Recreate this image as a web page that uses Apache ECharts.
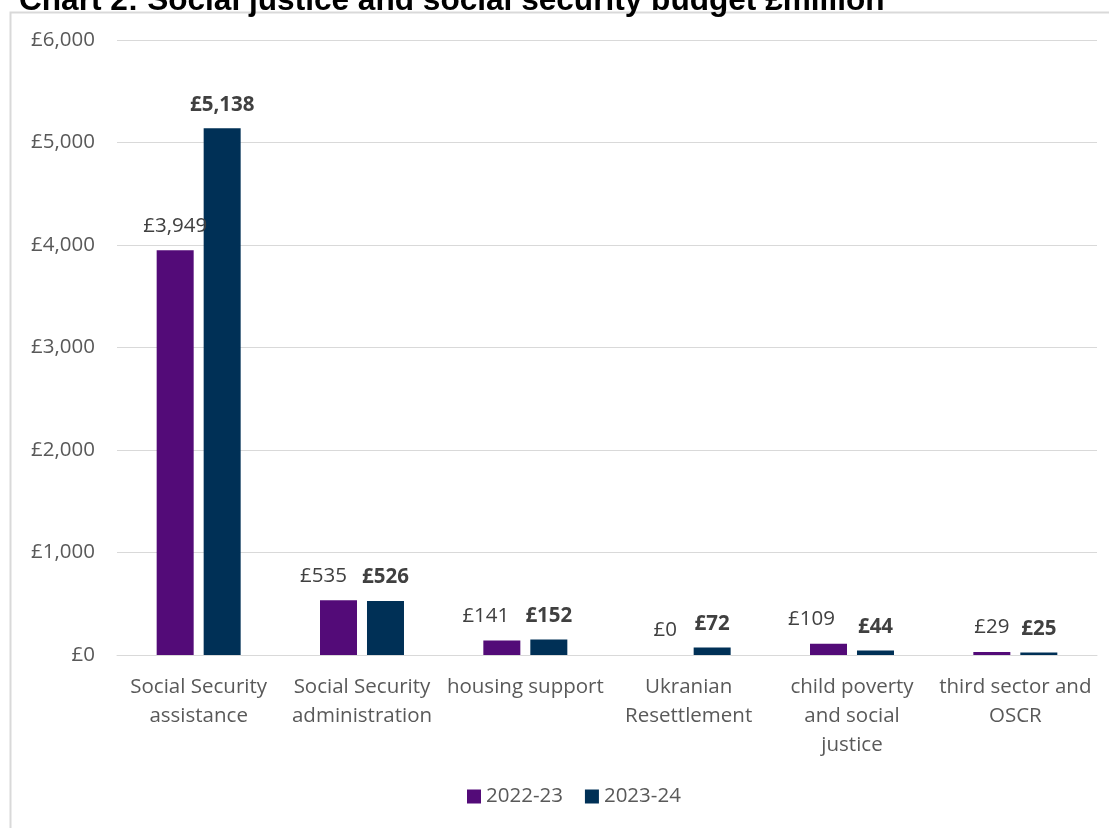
<!DOCTYPE html>
<html><head><meta charset="utf-8">
<script src="https://cdn.jsdelivr.net/npm/echarts@6/dist/echarts.min.js"></script>
<style>html,body{margin:0;padding:0;background:#fff}#c{width:1109px;height:828px}</style>
</head><body><div id="c"></div>
<script>
const titleText = 'Chart 2: Social justice and social security budget £million';
const categories = ['Social Security\nassistance','Social Security\nadministration','housing support','Ukranian\nResettlement','child poverty\nand social\njustice','third sector and\nOSCR'];
const seriesNames = ['2022-23','2023-24'];
const values2022 = [3949, 535, 141, 0, 109, 29];
const values2023 = [5138, 526, 152, 72, 44, 25];
const yMin = 0, yMax = 6000, yInterval = 1000;

const fmt = v => '£' + Number(v).toLocaleString('en-GB');
const FONT = '"Open Sans", sans-serif';
// manual nudges of a few 2022-23 labels, as in the reference
const labelShift = {1:-15, 2:-16, 4:-17};
const data2022 = values2022.map((v,i) => labelShift[i] ? {value:v,label:{offset:[labelShift[i],0]}} : v);
const chart = echarts.init(document.getElementById('c'));
chart.setOption({
  animation:false,
  backgroundColor:'#fff',
  title:{text:titleText,left:14,top:-20,textStyle:{fontFamily:'"Liberation Sans", Arial, sans-serif',fontWeight:'bold',fontSize:31.6,color:'#000'}},
  graphic:[{type:'rect',shape:{x:10.5,y:12.5,width:1200,height:900},style:{fill:'none',stroke:'#d9d9d9',lineWidth:2},z:-1}],
  grid:{left:117,right:12,top:40,bottom:173},
  legend:{bottom:16,left:462,itemWidth:14,itemHeight:14,itemGap:22,icon:'rect',
    textStyle:{fontFamily:FONT,fontSize:20.5,color:'#595959'},data:seriesNames},
  xAxis:{type:'category',data:categories,
    axisLine:{lineStyle:{color:'#d9d9d9',width:1}},axisTick:{show:false},
    axisLabel:{interval:0,fontFamily:FONT,fontSize:20.5,color:'#595959',lineHeight:29,margin:18}},
  yAxis:{type:'value',min:yMin,max:yMax,interval:yInterval,
    axisLine:{show:false},axisTick:{show:false},
    splitLine:{lineStyle:{color:'#d9d9d9',width:1}},
    axisLabel:{formatter:fmt,fontFamily:FONT,fontSize:20.5,color:'#595959',margin:22}},
  series:[
    {name:seriesNames[0],type:'bar',data:data2022,barWidth:37,barGap:'27%',
     itemStyle:{color:'#530B78'},
     label:{show:true,position:'top',distance:14,formatter:p=>fmt(p.value),fontFamily:FONT,fontSize:20.5,color:'#404040'}},
    {name:seriesNames[1],type:'bar',data:values2023,barWidth:37,
     itemStyle:{color:'#003056'},
     label:{show:true,position:'top',distance:13,formatter:p=>fmt(p.value),fontFamily:FONT,fontSize:20.5,fontWeight:'bold',color:'#404040'}}
  ]
});
</script></body></html>
